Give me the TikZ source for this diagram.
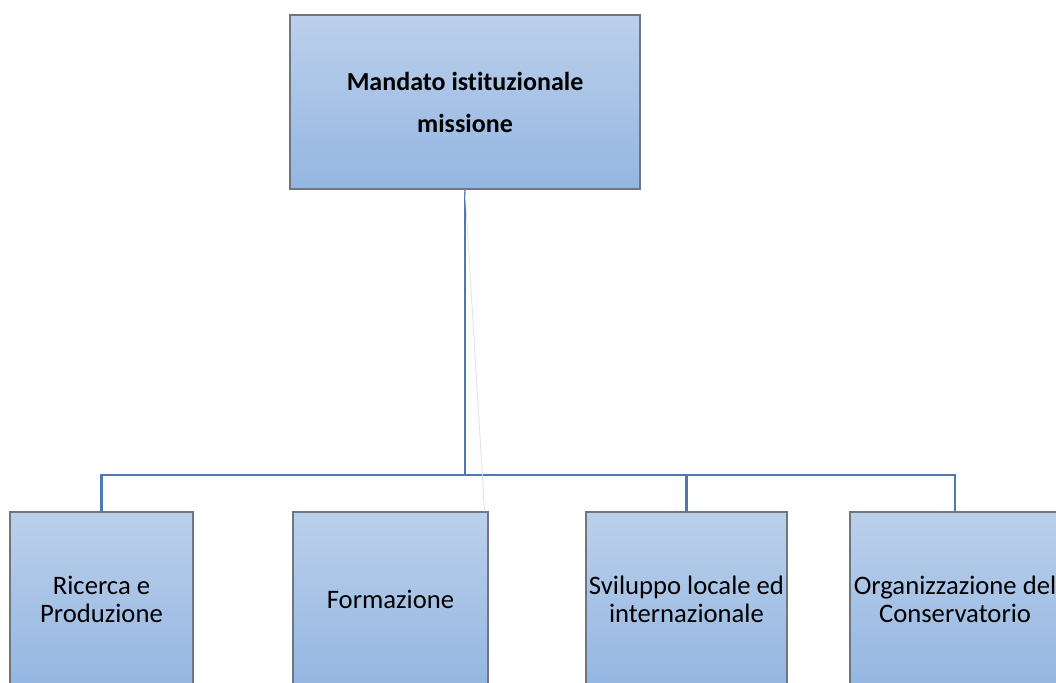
\documentclass[tikz,border=0pt]{standalone}
\usepackage{fontspec}
\setmainfont[Ligatures=NoCommon]{Carlito}
\usetikzlibrary{positioning}
\definecolor{boxtop}{RGB}{187,208,235}
\definecolor{boxbot}{RGB}{148,182,225}
\definecolor{linkblue}{RGB}{76,122,176}
\definecolor{boxedge}{RGB}{112,118,128}

\begin{document}
\begin{tikzpicture}[x=0.75pt,y=-0.75pt,
    every node/.style={font=\fontsize{20}{21}\selectfont},
    unit/.style={draw=boxedge,line width=0.8pt,top color=boxtop,bottom color=boxbot,minimum height=130.5pt,align=center,inner sep=0pt},
    link/.style={draw=linkblue,line width=2pt},
    ghost/.style={draw=black!12,line width=0.6pt}]
    \fill[white] (0,0) rectangle (1056,682);
    \useasboundingbox (0,0) rectangle (1056,682);
    \clip (0,0) rectangle (1056,682);
    % top box
    \node[unit,minimum width=262.5pt,font=\bfseries\fontsize{19.5}{31.5}\selectfont] (mission) at (465,102) {Mandato istituzionale\\missione};
    % children
    \node[unit,minimum width=137.25pt] (ricerca) at (101.5,599) {Ricerca e\\Produzione};
    \node[unit,minimum width=146.25pt] (formazione) at (390.5,599) {Formazione};
    \node[unit,minimum width=150.75pt] (sviluppo) at (686.5,599) {Sviluppo locale ed\\internazionale};
    \node[unit,minimum width=157.5pt] (conservatorio) at (955,599) {Organizzazione del\\Conservatorio};
    \coordinate (bus) at (465,475);
    \draw[link] (mission.south) -- (bus);
    \foreach \c in {ricerca,sviluppo,conservatorio} {
        \draw[link] (bus) -| (\c.north);
    }
    \draw[ghost] (mission.south) -- ([xshift=-3]formazione.north east);
\end{tikzpicture}
\end{document}
